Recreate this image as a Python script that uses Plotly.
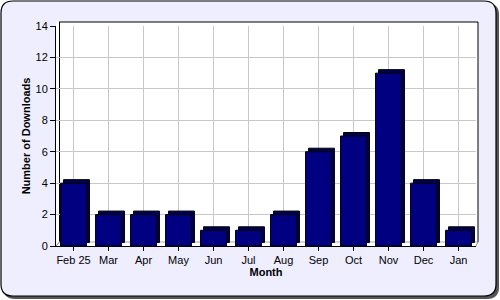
import plotly.graph_objects as go

months = ["Feb 25", "Mar", "Apr", "May", "Jun", "Jul", "Aug", "Sep", "Oct", "Nov", "Dec", "Jan"]
downloads = [4, 2, 2, 2, 1, 1, 2, 6, 7, 11, 4, 1]
y_ticks = [0, 2, 4, 6, 8, 10, 12, 14]

W, H = 500, 300
L, R, T, B = 56, 24, 26, 54
PW = W - L - R
PH = H - T - B
YMAX = 14


def px(x):
    return (x - L) / PW


def py(y):
    return (H - B - y) / PH


depth_x = 3 / (PW / len(months))
depth_y = 3.5 / (PH / YMAX)
bar_w = 0.74

fig = go.Figure()
# 3D depth (top/side faces)
fig.add_bar(
    x=months, y=downloads, base=depth_y, width=bar_w, offset=-bar_w / 2 + depth_x,
    marker=dict(color="#000050", line=dict(color="black", width=1)),
    showlegend=False, hoverinfo="skip",
)
# front faces
fig.add_bar(
    x=months, y=downloads, width=bar_w, offset=-bar_w / 2,
    marker=dict(color="#000080", line=dict(color="black", width=1)),
    showlegend=False,
)


def rrect(x0, y0, x1, y1, r):
    rx = r / PW
    ry = r / PH
    X0, X1 = px(x0), px(x1)
    Y0, Y1 = py(y0), py(y1)
    return (
        f"M {X0 + rx} {Y0} L {X1 - rx} {Y0} Q {X1} {Y0} {X1} {Y0 - ry} "
        f"L {X1} {Y1 + ry} Q {X1} {Y1} {X1 - rx} {Y1} "
        f"L {X0 + rx} {Y1} Q {X0} {Y1} {X0} {Y1 + ry} "
        f"L {X0} {Y0 - ry} Q {X0} {Y0} {X0 + rx} {Y0} Z"
    )


shapes = [
    dict(type="path", xref="paper", yref="paper", path=rrect(3, 3, 499, 299, 12),
         fillcolor="#555555", line=dict(width=0), layer="below"),
    dict(type="path", xref="paper", yref="paper", path=rrect(1, 1, 496, 296, 12),
         fillcolor="#eeeeff", line=dict(color="black", width=1.2), layer="below"),
    dict(type="rect", xref="paper", yref="paper", x0=px(56), x1=px(478), y0=py(246), y1=py(22),
         fillcolor="white", line=dict(width=0), layer="below"),
    dict(type="line", xref="paper", yref="paper", x0=px(59), x1=px(478), y0=py(22), y1=py(22),
         line=dict(color="black", width=1), layer="below"),
    dict(type="line", xref="paper", yref="paper", x0=px(478), x1=px(478), y0=py(22), y1=py(242),
         line=dict(color="black", width=1), layer="below"),
    dict(type="line", xref="paper", yref="paper", x0=px(59.5), x1=px(59.5), y0=py(22), y1=py(242),
         line=dict(color="black", width=1), layer="below"),
    dict(type="line", xref="paper", yref="paper", x0=px(59), x1=px(478), y0=py(242), y1=py(242),
         line=dict(color="#aaaaaa", width=1), layer="below"),
    dict(type="line", xref="paper", yref="paper", x0=px(56), x1=px(59.5), y0=py(246), y1=py(242),
         line=dict(color="#888888", width=1), layer="below"),
    dict(type="line", xref="paper", yref="paper", x0=px(476), x1=px(478), y0=py(246), y1=py(242),
         line=dict(color="#888888", width=1), layer="below"),
]

fig.update_layout(
    width=W, height=H,
    margin=dict(l=L, r=R, t=T, b=B, pad=0),
    paper_bgcolor="white",
    plot_bgcolor="rgba(0,0,0,0)",
    barmode="overlay",
    font=dict(family="Arial, Liberation Sans, sans-serif", size=11, color="black"),
    shapes=shapes,
    xaxis=dict(
        title=dict(text="<b>Month</b>", standoff=3, font=dict(size=11)),
        showline=True, linecolor="black", linewidth=1,
        ticks="outside", ticklen=4, tickcolor="black",
        showgrid=True, gridcolor="#c8c8c8", gridwidth=1,
        range=[-0.5, len(months) - 0.5],
    ),
    yaxis=dict(
        title=dict(text="<b>Number of Downloads</b>", standoff=2, font=dict(size=11)),
        range=[0, YMAX], tickvals=y_ticks,
        showline=True, linecolor="black", linewidth=1,
        ticks="outside", ticklen=5, tickcolor="black",
        showgrid=True, gridcolor="#c8c8c8", gridwidth=1,
        zeroline=False,
    ),
)

fig.write_html("out.html")
